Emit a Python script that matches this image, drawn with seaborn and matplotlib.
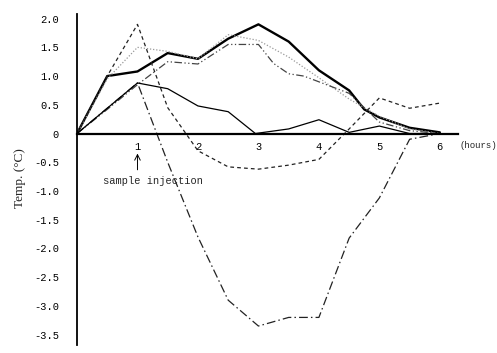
import seaborn as sns
import matplotlib.pyplot as plt
import pandas as pd

# temperature change curves
hours = [0, 0.5, 1, 1.5, 2, 2.5, 3, 3.5, 4, 4.5, 5, 5.5, 6]

heavy_x = [0, 0.5, 1, 1.5, 2, 2.5, 3, 3.5, 4, 4.5, 4.75, 5, 5.5, 6]
heavy_y = [0, 1.0, 1.08, 1.4, 1.3, 1.65, 1.9, 1.6, 1.1, 0.75, 0.42, 0.28, 0.1, 0.02]

dotted_y = [0, 0.95, 1.5, 1.43, 1.3, 1.72, 1.62, 1.33, 0.97, 0.6, 0.3, 0.08, 0]

ddd_x = [0, 0.5, 1, 1.5, 2, 2.5, 3, 3.25, 3.5, 3.75, 4.25, 4.5, 5, 5.5, 6]
ddd_y = [0, 0.42, 0.85, 1.25, 1.21, 1.55, 1.55, 1.22, 1.04, 1.0, 0.8, 0.7, 0.2, 0.05, 0]

dashed_y = [0, 1.0, 1.9, 0.45, -0.3, -0.58, -0.62, -0.55, -0.45, 0.08, 0.62, 0.44, 0.53]

dashdot_y = [0, 0.44, 0.88, -0.5, -1.8, -2.9, -3.35, -3.2, -3.2, -1.82, -1.12, -0.1, 0]

thin_x = [0, 0.5, 1, 1.5, 2, 2.5, 2.95, 3.5, 4, 4.5, 5, 5.5, 6]
thin_y = [0, 0.44, 0.88, 0.78, 0.48, 0.38, 0, 0.08, 0.24, 0.02, 0.13, 0, 0]

y_ticks = [2.0, 1.5, 1.0, 0.5, 0, -0.5, -1.0, -1.5, -2.0, -2.5, -3.0, -3.5]
y_labels = ["2.0", "1.5", "1.0", "0.5", "0", "-0.5", "-1.0", "-1.5", "-2.0", "-2.5", "-3.0", "-3.5"]
x_ticks = [1, 2, 3, 4, 5, 6]

sns.set_style('white')
mono = ['Liberation Mono', 'DejaVu Sans Mono']

fig = plt.figure(figsize=(4.97, 3.53), dpi=100)
ax = fig.add_axes([77 / 497, 8 / 353, 381 / 497, 331 / 353])

series = [
    (heavy_x, heavy_y, dict(color='black', lw=1.7, ls='-')),
    (hours, dotted_y, dict(color='#999999', lw=0.9, ls=(0, (1, 1.5)))),
    (ddd_x, ddd_y, dict(color='#444444', lw=0.9, ls=(0, (6, 2, 1, 2, 1, 2)))),
    (hours, dashed_y, dict(color='#222222', lw=0.9, ls=(0, (3, 2.5)))),
    (hours, dashdot_y, dict(color='#222222', lw=0.9, ls=(0, (7, 2.5, 1.2, 2.5)))),
    (thin_x, thin_y, dict(color='black', lw=0.9, ls='-')),
]
for xs, ys, kw in series:
    df = pd.DataFrame({'h': xs, 't': ys})
    sns.lineplot(data=df, x='h', y='t', ax=ax, sort=False, **kw)

ax.set_xlim(0, 6.3)
ax.set_ylim(-3.68, 2.08)

for s in ['top', 'right']:
    ax.spines[s].set_visible(False)
ax.spines['bottom'].set_position(('data', 0))
ax.spines['bottom'].set_linewidth(1.6)
ax.spines['left'].set_linewidth(1.3)
ax.spines['bottom'].set_color('black')
ax.spines['left'].set_color('black')

ax.set_yticks(y_ticks)
ax.set_yticklabels(y_labels, family=mono, fontsize=7.5)
ax.set_xticks(x_ticks)
ax.set_xticklabels([str(t) for t in x_ticks], family=mono, fontsize=7.5)
ax.set_xticks([0.5, 1.5, 2.5, 3.5, 4.5, 5.5], minor=True)
ax.tick_params(axis='y', direction='in', length=3, width=1, pad=13, colors='black')
ax.tick_params(axis='x', which='both', direction='in', length=3, width=1, pad=6, colors='black')
ax.set_xlabel('')
ax.set_ylabel('')

ax.text(6.33, -0.2, '(hours)', family=mono, fontsize=6.5, ha='left', va='center')
fig.text(20 / 497, 1 - 178 / 353, 'Temp. (\u00b0C)', family=['Liberation Serif', 'DejaVu Serif'],
         fontsize=9.5, rotation=90, ha='center', va='center')

ax.annotate('', xy=(1, -0.3), xytext=(1, -0.68),
            arrowprops=dict(arrowstyle='->', lw=0.7, color='black'))
ax.text(1.25, -0.82, 'sample injection', family=mono, fontsize=7.5, ha='center', va='center')

fig.savefig('out.png', dpi=100)
